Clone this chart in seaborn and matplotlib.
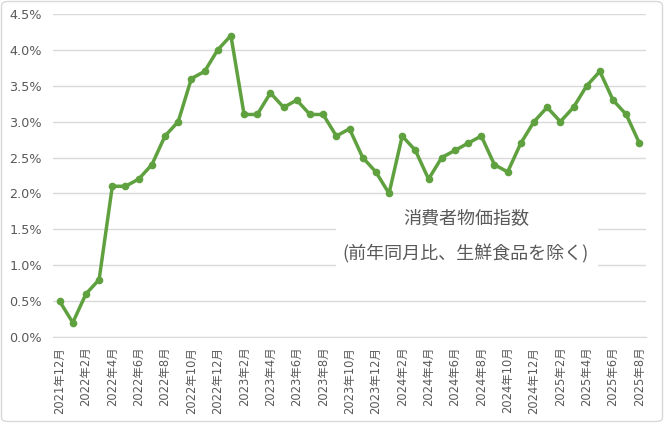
import numpy as np
import pandas as pd
import seaborn as sns
import matplotlib.pyplot as plt
from matplotlib.patches import Rectangle, FancyBboxPatch
from matplotlib.ticker import FuncFormatter, FixedLocator

# Monthly data, 2021/12 - 2025/8
months = ["2021年12月"] + [f"{y}年{m}月" for y in (2022, 2023, 2024) for m in range(1, 13)] \
    + [f"2025年{m}月" for m in range(1, 9)]
cpi = [0.5, 0.2, 0.6, 0.8, 2.1, 2.1, 2.2, 2.4, 2.8, 3.0, 3.6, 3.7, 4.0,
       4.2, 3.1, 3.1, 3.4, 3.2, 3.3, 3.1, 3.1, 2.8, 2.9, 2.5, 2.3,
       2.0, 2.8, 2.6, 2.2, 2.5, 2.6, 2.7, 2.8, 2.4, 2.3, 2.7, 3.0,
       3.2, 3.0, 3.2, 3.5, 3.7, 3.3, 3.1, 2.7]
title_line1 = "消費者物価指数"
title_line2 = "(前年同月比、生鮮食品を除く)"

df = pd.DataFrame({"idx": np.arange(len(months)), "month": months, "cpi": cpi})

sns.set_style("white")
plt.rcParams['font.family'] = ['Noto Sans CJK JP', 'DejaVu Sans']
tick_fonts = ['DejaVu Sans', 'Noto Sans CJK JP']

grey = "#595959"
green = "#5FA03F"

fig = plt.figure(figsize=(6.64, 4.23), dpi=100)
W, H = 664, 423
ax = fig.add_axes([53 / W, 1 - 337 / H, 593 / W, 323 / H])

sns.lineplot(data=df, x="idx", y="cpi", ax=ax, color=green, linewidth=2.5,
             marker="o", markersize=5.5, markeredgewidth=0, zorder=3)

ax.set_xlim(-0.5, len(months) - 0.5)
ax.set_ylim(0, 4.5)
ax.set_yticks(np.arange(0, 4.51, 0.5))
ax.yaxis.set_major_formatter(FuncFormatter(lambda v, p: f"{v:.1f}%"))
ax.grid(axis="y", color="#D9D9D9", linewidth=1)
ax.set_axisbelow(True)

label_idx = list(range(0, len(months), 2))
ax.set_xticks(label_idx)
ax.set_xticklabels([months[i] for i in label_idx], rotation=90)
ax.xaxis.set_minor_locator(FixedLocator([i - 0.5 for i in range(0, len(months) + 1, 2)]))
ax.tick_params(axis="x", which="major", length=0, pad=7, labelsize=8.3, labelcolor=grey,
               labelfontfamily=tick_fonts)
ax.tick_params(axis="x", which="minor", length=5, color="#D9D9D9", width=1)
ax.tick_params(axis="y", length=0, pad=8, labelsize=9.2, labelcolor=grey,
               labelfontfamily=tick_fonts)
ax.set_xlabel("")
ax.set_ylabel("")
for s in ("top", "right", "left"):
    ax.spines[s].set_visible(False)
ax.spines["bottom"].set_color("#D9D9D9")

# white box behind the annotation
ax.add_patch(Rectangle((336 / W, 1 - 276 / H), (598 - 336) / W, 76 / H,
                       transform=fig.transFigure, facecolor="white",
                       edgecolor="none", zorder=1))
fig.text(466 / W, 1 - 218 / H, title_line1, ha="center", va="center",
         fontsize=13, color=grey)
fig.text(466 / W, 1 - 254 / H, title_line2, ha="center", va="center",
         fontsize=13, color=grey)

# chart border
fig.patches.append(FancyBboxPatch((1.5 / W, 1.5 / H), 1 - 3 / W, 1 - 3 / H,
                                  boxstyle="round,pad=0,rounding_size=0.01",
                                  transform=fig.transFigure, facecolor="none",
                                  edgecolor="#D9D9D9", linewidth=1))

fig.savefig("out.png", dpi=100)
